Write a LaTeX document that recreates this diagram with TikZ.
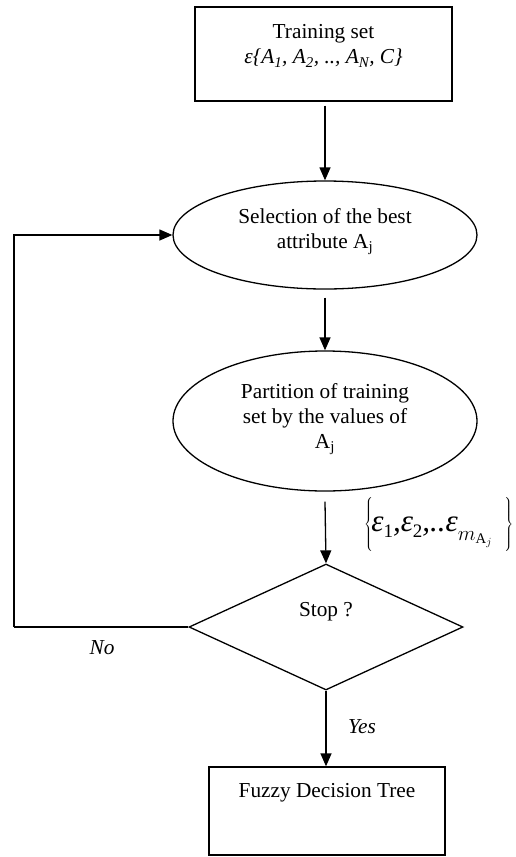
\documentclass[tikz,border=0pt]{standalone}
\usepackage{fontspec}
\setmainfont{Liberation Serif}
\usetikzlibrary{shapes.geometric,arrows.meta}
\newcommand{\epsub}[1]{ε\raisebox{-6pt}{\upshape\fontsize{19}{20}\selectfont #1}}
\newcommand{\bigbr}[1]{$\left#1\vrule height 25pt depth 21pt width 0pt\right.$}
\begin{document}
\begin{tikzpicture}[x=1pt,y=-1pt,
  every node/.style={font=\fontsize{21.3}{25}\selectfont},
  shp/.style={draw,line width=1.3pt,inner sep=0pt},
  lbl/.style={align=center,inner sep=0pt},
  arr/.style={line width=1.3pt,-{Triangle[width=11pt,length=13pt]}},
  ln/.style={line width=1.3pt}]
\useasboundingbox (0,0) rectangle (515,857);
% boxes and shapes
\node[shp,rectangle,minimum width=257pt,minimum height=94pt] (b1) at (323.5,54) {};
\node[lbl] (t1) at (323.5,46) {Training set\\\textit{ε\{A\textsubscript{1}, A\textsubscript{2}, .., A\textsubscript{N}, C\}}};
\node[shp,ellipse,minimum width=304pt,minimum height=108pt] (e1) at (325,235) {};
\node[lbl] (te1) at (325,232) {Selection of the best\\attribute A\textsubscript{j}};
\node[shp,ellipse,minimum width=304pt,minimum height=140pt] (e2) at (325,421) {};
\node[lbl] (te2) at (325,419) {Partition of training\\set by the values of\\A\textsubscript{j}};
\node[shp,diamond,minimum width=274pt,minimum height=126pt] (d) at (326,627) {};
\node[lbl] (td) at (326,612) {Stop ?};
\node[shp,rectangle,minimum width=236pt,minimum height=88pt] (b2) at (327,811) {};
\node[lbl] (tb2) at (327,793) {Fuzzy Decision Tree};
% set formula
\node[lbl,anchor=west] (set) at (364,525) {\fontsize{26}{30}\selectfont\bigbr{\{}\fontsize{31}{34}\selectfont\itshape\hspace{-3pt}\epsub{1},\epsub{2},..ε\raisebox{-9pt}{\fontsize{21}{24}\selectfont$m_{\mathrm{A}_j}$}\hspace{12pt}\fontsize{26}{30}\selectfont\bigbr{\}}};
% connectors
\draw[arr] (b1.south -| 325,0) ++(0,4) coordinate (s1) -- (s1 |- e1.north);
\draw[arr] (e1.south) ++(0,8) coordinate (s2) -- (e2.north);
\draw[arr] (e2.south) ++(0,10) coordinate (s3) -- (d.north);
\draw[arr] (d.south) -- (d.south |- b2.north);
\coordinate (c1) at (14,627);
\draw[ln] (d.west) -- (c1);
\draw[arr] (c1) |- (e1.west);
% labels
\node[lbl,font=\fontsize{21.3}{25}\selectfont\itshape] (no) at (102,648) {No};
\node[lbl,font=\fontsize{21.3}{25}\selectfont\itshape] (yes) at (362,727) {Yes};
\end{tikzpicture}
\end{document}
